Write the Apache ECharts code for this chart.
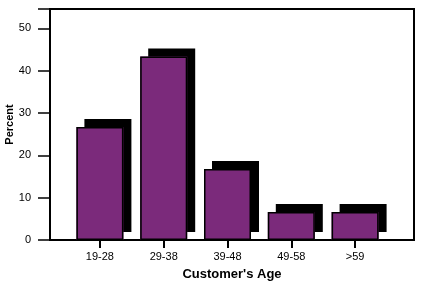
<!DOCTYPE html>
<html><head><meta charset="utf-8">
<script src="https://cdn.jsdelivr.net/npm/echarts@6/dist/echarts.min.js"></script>
<style>html,body{margin:0;padding:0;background:#fff}#c{width:426px;height:285px}</style>
</head><body><div id="c"></div>
<script>
const categories = ['19-28', '29-38', '39-48', '49-58', '>59'];
const percentValues = [26.7, 43.4, 16.8, 6.6, 6.6];
const yTicks = [0, 10, 20, 30, 40, 50];
const yMax = 54.6;

const chart = echarts.init(document.getElementById('c'), null, {renderer: 'canvas'});
const font = '"Liberation Sans", Arial, sans-serif';
chart.setOption({
  animation: false,
  backgroundColor: '#fff',
  grid: [
    {left: 50, top: 9, width: 364, height: 231, show: true, borderColor: '#000', borderWidth: 2, backgroundColor: 'transparent', containLabel: false, outerBoundsMode: 'none'},
    {left: 68, top: 9, width: 319, height: 231, containLabel: false, outerBoundsMode: 'none'}
  ],
  xAxis: [
    {type: 'category', gridIndex: 0, data: categories, axisLine: {show: false}, axisTick: {show: false}, axisLabel: {show: false},
     name: "Customer's Age", nameLocation: 'middle', nameGap: 28,
     nameTextStyle: {fontFamily: font, fontWeight: 'bold', fontSize: 13, color: '#000'}},
    {type: 'category', gridIndex: 1, data: categories, axisLine: {show: false},
     axisTick: {show: true, alignWithLabel: true, length: 8, lineStyle: {color: '#000', width: 2}},
     axisLabel: {fontFamily: font, fontSize: 11, color: '#000', margin: 11}}
  ],
  yAxis: [
    {type: 'value', gridIndex: 0, min: 0, max: yMax, interval: 10,
     axisLine: {show: true, lineStyle: {color: '#000', width: 2}},
     axisTick: {show: true, length: 12, lineStyle: {color: '#000', width: 1.5}},
     axisLabel: {fontFamily: font, fontSize: 11, color: '#000', margin: 19,
       formatter: v => yTicks.includes(v) ? String(v) : ''},
     splitLine: {show: false},
     name: 'Percent', nameLocation: 'middle', nameRotate: 90, nameGap: 35, nameMoveOverlap: false,
     nameTextStyle: {fontFamily: font, fontWeight: 'bold', fontSize: 11, color: '#000'}},
    {type: 'value', gridIndex: 1, min: 0, max: yMax, show: false, splitLine: {show: false}}
  ],
  series: [
    {type: 'bar', xAxisIndex: 1, yAxisIndex: 1, data: percentValues, barWidth: 47, z: 2,
     itemStyle: {color: '#7b2a7b', borderWidth: 0,
       shadowColor: '#000', shadowBlur: 0, shadowOffsetX: 8, shadowOffsetY: -8}},
    {type: 'bar', xAxisIndex: 1, yAxisIndex: 1, data: percentValues, barWidth: 47, barGap: '-100%', z: 3,
     itemStyle: {color: '#7b2a7b', borderColor: '#000', borderWidth: 1.5}}
  ]
});
</script></body></html>
